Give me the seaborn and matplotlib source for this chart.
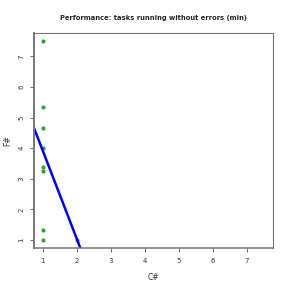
import seaborn as sns
import pandas as pd
import matplotlib.pyplot as plt

# values
csharp = [1, 1, 1, 1, 1, 1, 1, 1, 2]
fsharp = [7.5, 5.33, 4.67, 4.0, 3.4, 3.25, 1.33, 1.0, 1.0]
fit_intercept = 6.79
fit_slope = -2.88
ticks = [1, 2, 3, 4, 5, 6, 7]

data = pd.DataFrame({'C#': csharp, 'F#': fsharp})

sns.set_style('ticks')
plt.rcParams['font.family'] = ['DejaVu Sans']

fig = plt.figure(figsize=(2.91, 2.91), dpi=100)
ax = fig.add_axes([34 / 291, 1 - 248 / 291, 239 / 291, 215 / 291])

sns.scatterplot(x='C#', y='F#', data=data, color='#2aa82a', s=9,
                linewidth=0, ax=ax)
ax.axline((0, fit_intercept), slope=fit_slope, color='#0000ff', lw=1.8)

lo, hi = 0.74, 7.76
ax.set_xlim(lo, hi)
ax.set_ylim(lo, hi)
ax.set_xticks(ticks)
ax.set_yticks(ticks)
ax.tick_params(labelsize=5, length=3, width=0.6, color='#555555',
               labelcolor='#333333', pad=4)
for lab in ax.get_yticklabels():
    lab.set_rotation(90)
    lab.set_va('center')

for side in ['top', 'right', 'bottom', 'left']:
    ax.spines[side].set_color('#777777')
    ax.spines[side].set_linewidth(0.8)
ax.spines['left'].set_linewidth(1.4)
ax.spines['bottom'].set_linewidth(1.1)

ax.set_xlabel('C#', fontsize=5.5, color='#333333', labelpad=7)
ax.set_ylabel('F#', fontsize=5.5, color='#333333', labelpad=4)
ax.set_title('Performance: tasks running without errors (min)',
             fontsize=4.9, fontweight='bold', pad=9.5)

plt.savefig('out.png', dpi=100)
